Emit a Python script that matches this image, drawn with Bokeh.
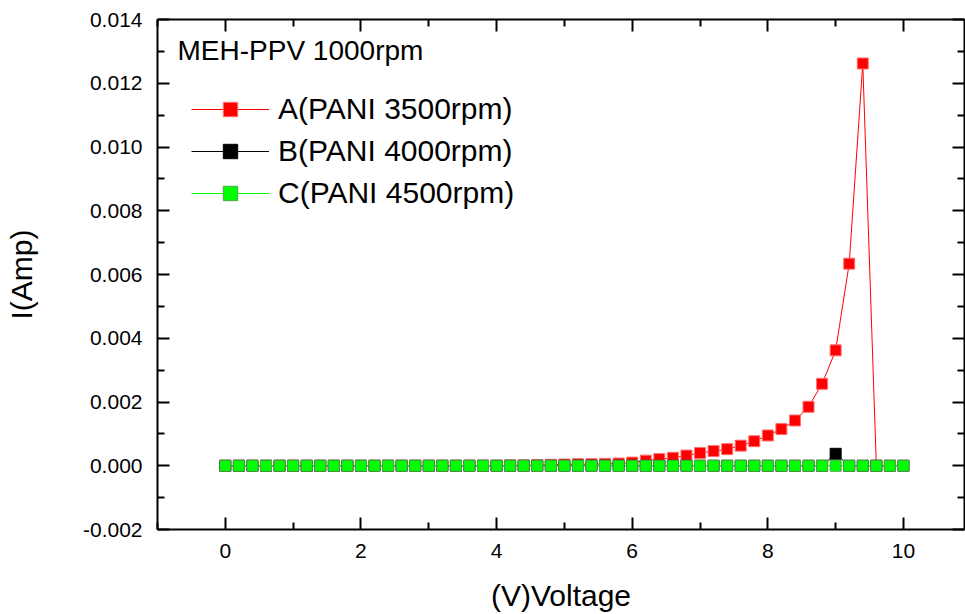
from bokeh.plotting import figure
from bokeh.models import (Range1d, LinearAxis, FixedTicker, PrintfTickFormatter,
                          CustomJSTickFormatter, Legend, LegendItem, Label)
from bokeh.embed import file_html
from bokeh.resources import INLINE

# ---------------- data ----------------
voltage = [0.0, 0.2, 0.4, 0.6, 0.8, 1.0, 1.2, 1.4, 1.6, 1.8,
           2.0, 2.2, 2.4, 2.6, 2.8, 3.0, 3.2, 3.4, 3.6, 3.8,
           4.0, 4.2, 4.4, 4.6, 4.8, 5.0, 5.2, 5.4, 5.6, 5.8,
           6.0, 6.2, 6.4, 6.6, 6.8, 7.0, 7.2, 7.4, 7.6, 7.8,
           8.0, 8.2, 8.4, 8.6, 8.8, 9.0, 9.2, 9.4, 9.6, 9.8, 10.0]

current_a = [0.0, 0.0, 0.0, 0.0, 0.0, 0.0, 0.0, 0.0, 0.0, 0.0,
             0.0, 0.0, 0.0, 0.0, 0.0, 0.0, 0.0, 0.0, 0.0, 0.0,
             0.0, 0.00001, 0.00001, 0.00002, 0.00003, 0.00004, 0.00005, 0.00005, 0.00006, 0.00007,
             0.00010, 0.00016, 0.00021, 0.00025, 0.00032, 0.00040, 0.00046, 0.00052, 0.00063, 0.00077,
             0.00095, 0.00115, 0.00142, 0.00185, 0.00257, 0.00362, 0.00634, 0.01262, 0.0, 0.0, 0.0]

current_b = [0.0, 0.0, 0.0, 0.0, 0.0, 0.0, 0.0, 0.0, 0.0, 0.0,
             0.0, 0.0, 0.0, 0.0, 0.0, 0.0, 0.0, 0.0, 0.0, 0.0,
             0.0, 0.0, 0.0, 0.0, 0.0, 0.0, 0.0, 0.0, 0.0, 0.0,
             0.0, 0.0, 0.0, 0.0, 0.0, 0.0, 0.0, 0.0, 0.0, 0.0,
             0.0, 0.0, 0.0, 0.0, 0.0, 0.000375, 0.0, 0.0, 0.0, 0.0, 0.0]

current_c = [0.0] * 51

series_labels = ["A(PANI 3500rpm)", "B(PANI 4000rpm)", "C(PANI 4500rpm)"]
title_text = "MEH-PPV 1000rpm"
x_title = "(V)Voltage"
y_title = "I(Amp)"

x_major = [0, 2, 4, 6, 8, 10]
x_minor = [-1, 1, 3, 5, 7, 9]
y_major = [-0.002, 0.0, 0.002, 0.004, 0.006, 0.008, 0.010, 0.012, 0.014]
y_minor = [-0.001, 0.001, 0.003, 0.005, 0.007, 0.009, 0.011, 0.013]

FONT = "Liberation Sans"

p = figure(width=965, height=614, output_backend="svg", toolbar_location=None,
           x_range=Range1d(-1, 10.9), y_range=Range1d(-0.002, 0.014),
           min_border_left=157, min_border_top=19, min_border_right=1,
           min_border_bottom=85)
p.outline_line_color = None
p.xgrid.visible = False
p.ygrid.visible = False
p.background_fill_color = "white"
p.border_fill_color = "white"

xt = FixedTicker(ticks=x_major, minor_ticks=x_minor)
yt = FixedTicker(ticks=y_major, minor_ticks=y_minor)


def style_axis(ax):
    ax.axis_line_width = 2
    ax.axis_line_color = "black"
    ax.major_tick_in = 12
    ax.major_tick_out = 0
    ax.minor_tick_in = 7
    ax.minor_tick_out = 0
    ax.major_tick_line_width = 2
    ax.minor_tick_line_width = 2
    ax.major_tick_line_color = "black"
    ax.minor_tick_line_color = "black"
    ax.major_label_text_font = FONT
    ax.major_label_text_font_size = "21px"
    ax.major_label_text_color = "black"
    ax.axis_label_text_font = FONT
    ax.axis_label_text_font_size = "30px"
    ax.axis_label_text_font_style = "normal"
    ax.axis_label_text_color = "black"


xa = p.xaxis[0]
xa.ticker = xt
style_axis(xa)
xa.major_label_standoff = 14
xa.axis_label = x_title
xa.axis_label_standoff = 18

ya = p.yaxis[0]
ya.ticker = yt
ya.formatter = PrintfTickFormatter(format="%.3f")
style_axis(ya)
ya.major_label_standoff = 15
ya.axis_label = y_title
ya.axis_label_standoff = 42

blank = CustomJSTickFormatter(code="return ''")
top = LinearAxis(ticker=xt, formatter=blank)
style_axis(top)
top.major_label_standoff = 0
p.add_layout(top, "above")
right = LinearAxis(ticker=yt, formatter=blank)
style_axis(right)
right.major_label_standoff = 0
p.add_layout(right, "right")

# series A (red)
la = p.line(voltage[:49], current_a[:49], line_color="#ff0000", line_width=1)
sa = p.scatter(voltage[:49], current_a[:49], marker="square", size=11,
               fill_color="#ff0000", line_color="#ff7070", line_width=1)
# series B (black)
lb = p.line(voltage, current_b, line_color="#000000", line_width=1)
sb = p.scatter(voltage, current_b, marker="square", size=11,
               fill_color="#000000", line_color="#000000", line_width=1)
# series C (green)
lc = p.line(voltage, current_c, line_color="#00ff00", line_width=1)
sc = p.scatter(voltage, current_c, marker="square", size=11,
               fill_color="#00ff00", line_color="#4ca64c", line_width=1)

legend = Legend(items=[LegendItem(label=series_labels[0], renderers=[la, sa]),
                       LegendItem(label=series_labels[1], renderers=[lb, sb]),
                       LegendItem(label=series_labels[2], renderers=[lc, sc])],
                location=(34, 318), glyph_width=78, glyph_height=36, spacing=6,
                padding=0, margin=0, label_standoff=9,
                label_text_font=FONT, label_text_font_size="30px",
                label_text_color="black",
                border_line_color=None, background_fill_alpha=0)
p.add_layout(legend)

p.add_layout(Label(x=20, y=479, x_units="screen", y_units="screen", text=title_text,
                   text_font=FONT, text_font_size="28px", text_color="black",
                   text_baseline="alphabetic"))

open("out.html", "w").write(file_html(p, INLINE))
